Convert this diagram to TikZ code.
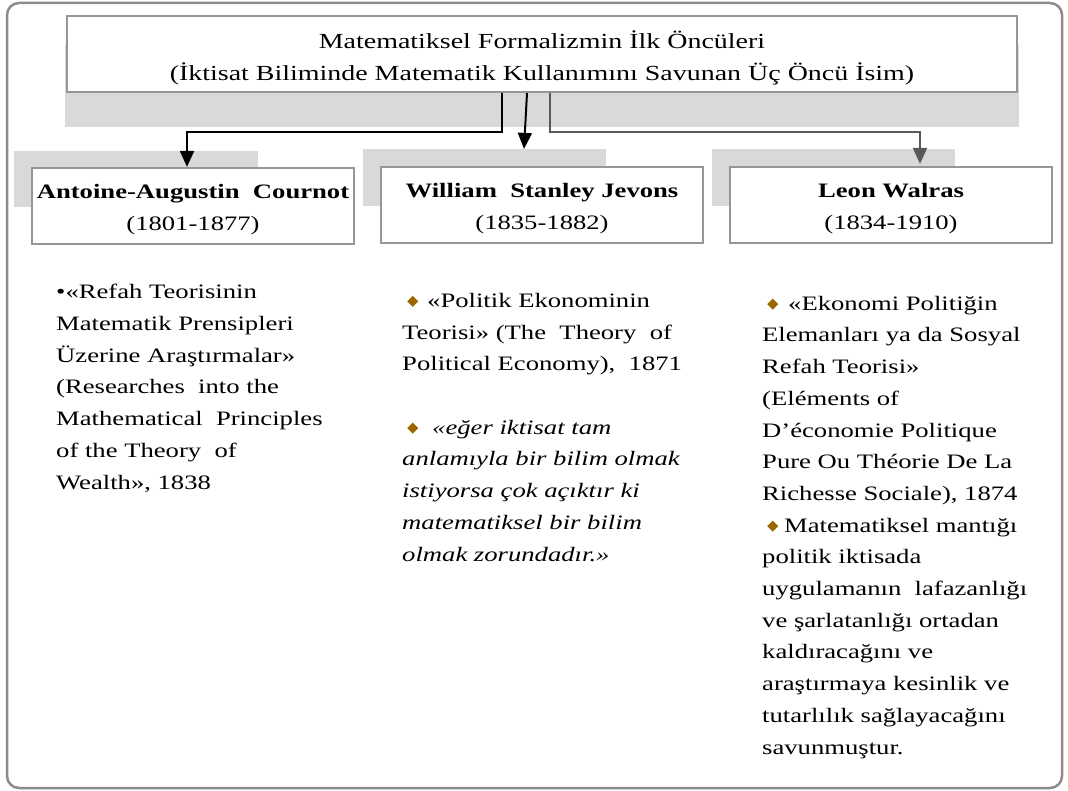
\documentclass[tikz,border=0pt]{standalone}
\usepackage{fontspec}
\setmainfont{Liberation Serif}[FakeStretch=1.30]
\usepackage{tikz}
\usetikzlibrary{arrows.meta,calc}
\definecolor{shadowgray}{RGB}{217,217,217}
\definecolor{edge}{RGB}{150,150,150}
\definecolor{frameline}{RGB}{140,140,140}
\definecolor{walrasline}{RGB}{89,89,89}
\definecolor{bulletbrown}{RGB}{153,102,0}
\pgfdeclarelayer{bg}
\pgfsetlayers{bg,main}
\newcommand{\dbul}{\tikz[baseline=0pt]\fill[bulletbrown] (0pt,6pt) -- (5.5pt,11.5pt) -- (11pt,6pt) -- (5.5pt,0.5pt) -- cycle;}

\begin{document}
\begin{tikzpicture}[x=1pt,y=-1pt,
    box/.style={draw=edge, line width=2.2pt, fill=white, minimum width=322pt, minimum height=76pt,
      align=center, inner sep=0pt, font=\fontsize{20.5}{31.7}\selectfont},
    body/.style={anchor=base west, align=left, inner sep=0pt, font=\fontsize{20.5}{31.7}\selectfont},
    link/.style={line width=2pt, -{Triangle[length=16pt,width=14pt]}},
    ]
      \useasboundingbox (0,0) rectangle (1068,791);
      \draw[frameline, line width=2.5pt, rounded corners=12pt] (7,3) rectangle (1062,788);

      \node[box, minimum width=950pt, font=\fontsize{21.5}{31.7}\selectfont] (title) at (542,54) {\rule{0pt}{26pt}Matematiksel Formalizmin İlk Öncüleri\\(İktisat Biliminde Matematik Kullanımını Savunan Üç Öncü İsim)};
      \node[box] (cournot) at (193,206) {\rule{0pt}{22pt}\textbf{Antoine-Augustin\ \ Cournot}\\(1801-1877)};
      \node[box] (jevons) at (542,205) {\rule{0pt}{22pt}\textbf{William\ \ Stanley Jevons}\\(1835-1882)};
      \node[box] (walras) at (891,205) {\rule{0pt}{22pt}\textbf{Leon Walras}\\(1834-1910)};

      \begin{pgfonlayer}{bg}
	  \fill[shadowgray] ($(title.north west)+(-1,30)$) rectangle ($(title.south east)+(1,34)$);
	  \fill[shadowgray] ($(cournot.north west)+(-17,-16)$) rectangle ($(cournot.north west)+(227,40)$);
	  \fill[shadowgray] ($(jevons.north west)+(-17,-17)$) rectangle ($(jevons.north west)+(226,40)$);
	  \fill[shadowgray] ($(walras.north west)+(-17,-17)$) rectangle ($(walras.north west)+(226,40)$);
      \end{pgfonlayer}

      \draw[link] ($(title.south)+(-40,0)$) -- ++(0,39) -| ($(cournot.north)+(-6,0)$);
      \draw[link] ($(title.south)+(-15,0)$) -- ($(jevons.north)+(-18,-17)$);
      \draw[link, walrasline] ($(title.south)+(8,0)$) -- ++(0,39) -| ($(walras.north)+(29,-2)$);

      % base anchor sits on the last line
      \node[body] (cournottext) at (56,489) {•«Refah Teorisinin\\Matematik Prensipleri\\Üzerine Araştırmalar»\\(Researches\ \ into the\\Mathematical\ \ Principles\\of the Theory\ \ of\\Wealth», 1838};
      \node[body] (jevonstext) at (402,561) {\hspace*{5pt}\dbul\hspace{9pt}«Politik Ekonominin\\Teorisi» (The\ \ Theory\ \ of\\Political Economy),\ \ 1871\\[31.7pt]
        \hspace*{5pt}\dbul\hspace{14pt}\textit{«eğer iktisat tam}\\\textit{anlamıyla bir bilim olmak}\\\textit{istiyorsa çok açıktır ki}\\\textit{matematiksel bir bilim}\\\textit{olmak zorundadır.»}};
      \node[body] (walrastext) at (762,754) {\hspace*{5pt}\dbul\hspace{10pt}«Ekonomi Politiğin\\Elemanları ya da Sosyal\\Refah Teorisi»\\(Eléments of\\D’économie Politique\\Pure Ou Théorie De La\\Richesse Sociale), 1874\\
        \hspace*{5pt}\dbul\hspace{6pt}Matematiksel mantığı\\politik iktisada\\uygulamanın\ \ lafazanlığı\\ve şarlatanlığı ortadan\\kaldıracağını ve\\araştırmaya kesinlik ve\\tutarlılık sağlayacağını\\savunmuştur.};
    \end{tikzpicture}
\end{document}
